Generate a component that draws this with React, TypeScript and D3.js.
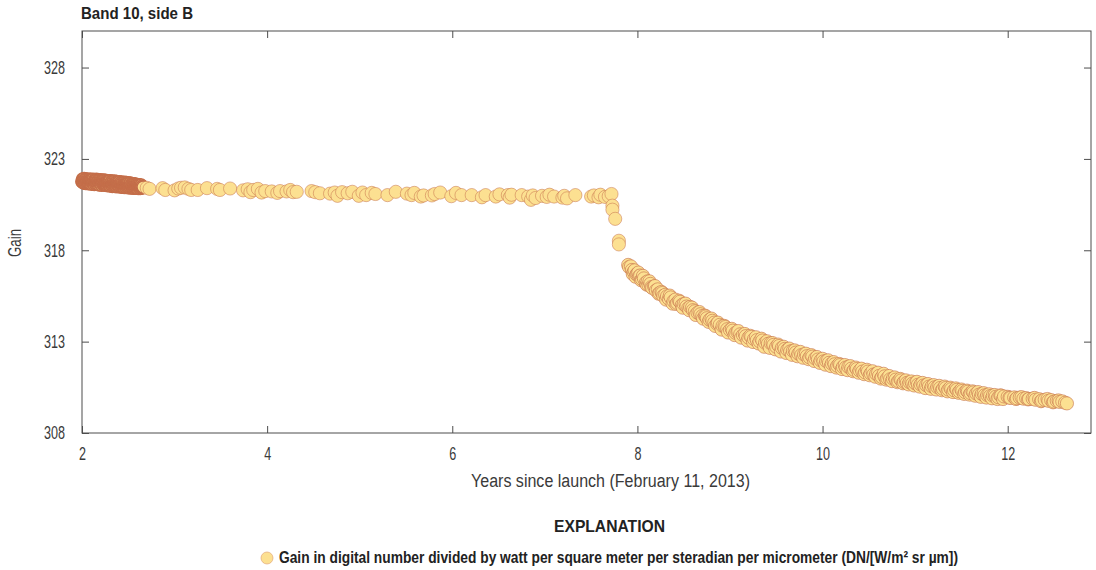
import { useEffect, useRef } from 'react'
import * as d3 from 'd3'

// first months after launch + 2 years, points nearly touching
const denseYears = [
  2.0, 2.01, 2.015, 2.02, 2.03, 2.035, 2.04, 2.05, 2.055, 2.06, 2.07, 2.075, 2.08, 2.09, 2.095, 2.1, 2.105, 2.11, 2.12, 2.125,
  2.13, 2.14, 2.145, 2.15, 2.16, 2.165, 2.17, 2.18, 2.185, 2.19, 2.2, 2.205, 2.21, 2.22, 2.225, 2.23, 2.24, 2.245, 2.25, 2.26,
  2.265, 2.27, 2.28, 2.285, 2.29, 2.3, 2.305, 2.31, 2.32, 2.325, 2.33, 2.34, 2.345, 2.35, 2.36, 2.365, 2.37, 2.38, 2.385, 2.39,
  2.4, 2.405, 2.41, 2.42, 2.425, 2.43, 2.44, 2.445, 2.45, 2.46, 2.465, 2.47, 2.48, 2.485, 2.49, 2.5, 2.505, 2.51, 2.52, 2.525,
  2.53, 2.54, 2.545, 2.55, 2.56, 2.565, 2.57, 2.58, 2.585, 2.59, 2.6, 2.605, 2.61, 2.62, 2.625, 2.63, 2.64, 2.645, 2.65, 2.66,
]
const denseGain = [
  321.78, 321.84, 321.72, 321.86, 321.76, 321.88, 321.7, 321.82, 321.74, 321.87, 321.68, 321.8, 321.72, 321.85, 321.66, 321.78, 321.84, 321.7, 321.8, 321.64,
  321.76, 321.83, 321.68, 321.75, 321.84, 321.62, 321.74, 321.8, 321.66, 321.72, 321.82, 321.6, 321.73, 321.78, 321.64, 321.7, 321.81, 321.62, 321.68, 321.76,
  321.58, 321.7, 321.74, 321.6, 321.67, 321.78, 321.57, 321.66, 321.72, 321.58, 321.64, 321.76, 321.56, 321.62, 321.7, 321.54, 321.64, 321.72, 321.55, 321.6,
  321.74, 321.52, 321.62, 321.68, 321.53, 321.58, 321.72, 321.5, 321.6, 321.66, 321.5, 321.56, 321.7, 321.49, 321.58, 321.64, 321.48, 321.54, 321.67, 321.47,
  321.56, 321.62, 321.46, 321.52, 321.64, 321.46, 321.54, 321.6, 321.45, 321.5, 321.6, 321.44, 321.52, 321.57, 321.44, 321.48, 321.56, 321.42, 321.5, 321.46,
]
const denseYears2 = [
  2.003, 2.007, 2.013, 2.018, 2.023, 2.027, 2.033, 2.038, 2.043, 2.047, 2.053, 2.058, 2.063, 2.067, 2.073, 2.078, 2.083, 2.087, 2.093, 2.098,
  2.103, 2.108, 2.113, 2.117, 2.123, 2.128, 2.133, 2.137, 2.143, 2.148, 2.153, 2.157, 2.163, 2.168, 2.173, 2.177, 2.183, 2.188, 2.193, 2.197,
  2.203, 2.208, 2.213, 2.217, 2.223, 2.228, 2.233, 2.237, 2.243, 2.248, 2.253, 2.257, 2.263, 2.268, 2.273, 2.277, 2.283, 2.288, 2.293, 2.297,
  2.303, 2.308, 2.313, 2.317, 2.323, 2.328, 2.333, 2.337, 2.343, 2.348, 2.353, 2.357, 2.363, 2.368, 2.373, 2.377, 2.383, 2.388, 2.393, 2.397,
  2.403, 2.408, 2.413, 2.417, 2.423, 2.428, 2.433, 2.437, 2.443, 2.448, 2.453, 2.457, 2.463, 2.468, 2.473, 2.477, 2.483, 2.488, 2.493, 2.497,
  2.503, 2.508, 2.513, 2.517, 2.523, 2.528, 2.533, 2.537, 2.543, 2.548, 2.553, 2.557, 2.563, 2.568, 2.573, 2.577, 2.583, 2.588, 2.593, 2.597,
  2.603, 2.608, 2.613, 2.617, 2.623, 2.628, 2.633, 2.637, 2.643, 2.648,
]
const denseGain2 = [
  321.74, 321.9, 321.8, 321.68, 321.92, 321.72, 321.84, 321.66, 321.9, 321.76, 321.7, 321.88, 321.78, 321.64, 321.86, 321.74, 321.68, 321.9, 321.72, 321.82,
  321.62, 321.86, 321.76, 321.66, 321.88, 321.7, 321.6, 321.84, 321.78, 321.62, 321.72, 321.88, 321.66, 321.8, 321.6, 321.74, 321.84, 321.58, 321.7, 321.86,
  321.64, 321.76, 321.56, 321.82, 321.68, 321.6, 321.84, 321.72, 321.56, 321.66, 321.82, 321.58, 321.74, 321.62, 321.8, 321.54, 321.7, 321.78, 321.56, 321.66,
  321.8, 321.52, 321.7, 321.6, 321.78, 321.5, 321.66, 321.74, 321.52, 321.6, 321.78, 321.5, 321.68, 321.58, 321.76, 321.48, 321.62, 321.7, 321.5, 321.56,
  321.74, 321.48, 321.66, 321.54, 321.72, 321.46, 321.6, 321.68, 321.46, 321.54, 321.72, 321.44, 321.62, 321.5, 321.7, 321.44, 321.58, 321.66, 321.44, 321.52,
  321.68, 321.42, 321.6, 321.48, 321.66, 321.42, 321.54, 321.62, 321.42, 321.5, 321.64, 321.4, 321.56, 321.46, 321.62, 321.4, 321.52, 321.58, 321.4, 321.46,
  321.58, 321.38, 321.52, 321.44, 321.56, 321.38, 321.46, 321.54, 321.4, 321.46,
]

// slow decline up to the drop
const flatYears = [
  2.7, 2.73, 2.87, 2.9, 3.0, 3.04, 3.07, 3.11, 3.15, 3.18, 3.25, 3.35, 3.46, 3.49, 3.6, 3.74, 3.79, 3.82, 3.85, 3.9,
  3.94, 3.98, 4.05, 4.11, 4.14, 4.21, 4.25, 4.28, 4.32, 4.48, 4.52, 4.57, 4.68, 4.73, 4.76, 4.81, 4.87, 4.92, 4.99, 5.03,
  5.07, 5.13, 5.17, 5.3, 5.39, 5.51, 5.56, 5.59, 5.66, 5.69, 5.78, 5.81, 5.87, 5.99, 6.04, 6.1, 6.21, 6.32, 6.36, 6.47,
  6.51, 6.6, 6.62, 6.64, 6.75, 6.82, 6.85, 6.87, 6.9, 6.97, 7.02, 7.05, 7.1, 7.19, 7.21, 7.24, 7.33, 7.5, 7.53, 7.58,
  7.6, 7.65, 7.69, 7.72,
]
const flatGain = [
  321.42, 321.36, 321.4, 321.3, 321.28, 321.38, 321.42, 321.44, 321.36, 321.3, 321.3, 321.4, 321.36, 321.3, 321.38, 321.28, 321.34, 321.18, 321.3, 321.36,
  321.16, 321.24, 321.22, 321.14, 321.24, 321.22, 321.3, 321.18, 321.2, 321.24, 321.18, 321.12, 321.1, 321.16, 320.98, 321.18, 321.12, 321.2, 320.98, 321.16,
  321.02, 321.14, 321.08, 321.02, 321.2, 321.1, 321.02, 321.14, 320.94, 321.0, 321.0, 321.08, 321.16, 320.96, 321.14, 321.02, 321.02, 320.9, 321.02, 320.94,
  321.06, 321.02, 320.88, 321.04, 321.02, 320.94, 320.76, 321.0, 320.86, 320.98, 320.92, 321.04, 320.94, 320.88, 320.98, 320.84, 321.02, 320.94, 321.0, 320.9,
  321.04, 320.92, 320.96, 321.08,
]

// sudden fall
const dropYears = [7.73, 7.73, 7.76, 7.8, 7.8]
const dropGain = [320.44, 320.22, 319.72, 318.52, 318.32]

// curve after the drop
const decayYears = [
  7.9, 7.91, 7.93, 7.94, 7.96, 7.97, 7.99, 8.0, 8.02, 8.03, 8.05, 8.07, 8.09, 8.11, 8.12, 8.14, 8.16, 8.18, 8.2, 8.22,
  8.24, 8.26, 8.28, 8.3, 8.32, 8.34, 8.36, 8.39, 8.41, 8.43, 8.46, 8.48, 8.5, 8.53, 8.55, 8.57, 8.6, 8.62, 8.65, 8.68,
  8.7, 8.73, 8.75, 8.78, 8.81, 8.83, 8.86, 8.89, 8.92, 8.95, 8.97, 9.0, 9.03, 9.06, 9.08, 9.11, 9.14, 9.17, 9.2, 9.23,
  9.26, 9.29, 9.32, 9.35, 9.38, 9.41, 9.44, 9.47, 9.5, 9.53, 9.56, 9.59, 9.62, 9.65, 9.68, 9.71, 9.74, 9.77, 9.8, 9.83,
  9.86, 9.89, 9.92, 9.95, 9.98, 10.01, 10.04, 10.07, 10.1, 10.13, 10.16, 10.19, 10.22, 10.25, 10.28, 10.31, 10.34, 10.37, 10.4, 10.43,
  10.46, 10.49, 10.52, 10.55, 10.58, 10.61, 10.64, 10.67, 10.7, 10.73, 10.76, 10.79, 10.82, 10.85, 10.88, 10.91, 10.94, 10.97, 11.0, 11.03,
  11.06, 11.09, 11.12, 11.15, 11.18, 11.21, 11.24, 11.27, 11.3, 11.33, 11.36, 11.39, 11.42, 11.45, 11.48, 11.51, 11.54, 11.57, 11.6, 11.63,
  11.66, 11.69, 11.72, 11.75, 11.78, 11.81, 11.84, 11.87, 11.9, 11.93, 11.96, 12.0, 12.03, 12.07, 12.1, 12.13, 12.17, 12.2, 12.23, 12.27,
  12.3, 12.34, 12.37, 12.4, 12.44, 12.47, 12.5, 12.53, 12.56, 12.59, 12.62, 12.64,
]
const decayGain = [
  317.2, 317.08, 317.12, 316.92, 316.82, 316.9, 316.68, 316.72, 316.58, 316.62, 316.42, 316.46, 316.22, 316.3, 316.1, 316.16, 315.94, 316.02, 315.8, 315.86,
  315.66, 315.72, 315.5, 315.56, 315.48, 315.34, 315.42, 315.22, 315.3, 315.12, 315.18, 315.0, 315.06, 314.92, 314.84, 314.9, 314.72, 314.66, 314.58, 314.5,
  314.4, 314.42, 314.28, 314.2, 314.14, 314.04, 313.98, 313.92, 313.86, 313.8, 313.68, 313.64, 313.6, 313.48, 313.52, 313.4, 313.36, 313.3, 313.22, 313.26,
  313.14, 313.08, 313.02, 313.06, 312.94, 312.88, 312.92, 312.82, 312.72, 312.76, 312.66, 312.6, 312.56, 312.46, 312.5, 312.4, 312.34, 312.26, 312.3, 312.2,
  312.14, 312.18, 312.08, 312.02, 311.98, 311.92, 311.94, 311.84, 311.8, 311.76, 311.68, 311.72, 311.62, 311.58, 311.62, 311.52, 311.46, 311.5, 311.42, 311.36,
  311.32, 311.36, 311.26, 311.2, 311.24, 311.12, 311.06, 311.1, 311.0, 310.94, 310.98, 310.92, 310.84, 310.88, 310.8, 310.74, 310.78, 310.7, 310.72, 310.64,
  310.66, 310.6, 310.62, 310.54, 310.56, 310.5, 310.52, 310.46, 310.42, 310.46, 310.38, 310.4, 310.34, 310.36, 310.28, 310.3, 310.24, 310.26, 310.18, 310.22,
  310.16, 310.1, 310.14, 310.06, 310.08, 310.02, 310.05, 309.98, 309.96, 310.04, 310.0, 309.98, 309.92, 309.95, 309.9, 309.94, 309.88, 309.91, 309.86, 309.88,
  309.82, 309.85, 309.78, 309.82, 309.76, 309.8, 309.72, 309.76, 309.7, 309.73, 309.66, 309.62,
]
// scatter around the curve, the brown crescents in the band
const decayYears2 = [
  7.95, 7.98, 8.01, 8.04, 8.06, 8.1, 8.13, 8.15, 8.19, 8.23, 8.27, 8.31, 8.35, 8.38, 8.42, 8.45, 8.49, 8.52, 8.56, 8.59,
  8.63, 8.67, 8.71, 8.74, 8.77, 8.8, 8.84, 8.87, 8.91, 8.94, 8.98, 9.02, 9.05, 9.09, 9.12, 9.16, 9.19, 9.22, 9.25, 9.28,
  9.31, 9.34, 9.37, 9.4, 9.43, 9.46, 9.49, 9.52, 9.55, 9.58, 9.61, 9.64, 9.67, 9.7, 9.73, 9.76, 9.79, 9.82, 9.85, 9.88,
  9.91, 9.94, 9.97, 10.0, 10.03, 10.06, 10.09, 10.12, 10.15, 10.18, 10.21, 10.24, 10.27, 10.3, 10.33, 10.36, 10.39, 10.42, 10.45, 10.48,
  10.51, 10.54, 10.57, 10.6, 10.63, 10.66, 10.69, 10.72, 10.75, 10.78, 10.81, 10.84, 10.87, 10.9, 10.93, 10.96, 10.99, 11.02, 11.05, 11.08,
  11.11, 11.14, 11.17, 11.2, 11.23, 11.26, 11.29, 11.32, 11.35, 11.38, 11.41, 11.44, 11.47, 11.5, 11.53, 11.56, 11.59, 11.62, 11.65, 11.68,
  11.71, 11.74, 11.77, 11.8, 11.83, 11.86, 11.89, 11.92, 11.95, 12.02, 12.09, 12.15, 12.22, 12.29, 12.36, 12.43, 12.49, 12.55,
]
const decayGain2 = [
  316.7, 316.55, 316.78, 316.36, 316.6, 316.12, 316.3, 315.98, 316.04, 315.62, 315.66, 315.3, 315.52, 315.08, 315.06, 315.24, 314.86, 315.08, 314.72, 314.86,
  314.46, 314.62, 314.26, 314.38, 314.08, 314.26, 313.86, 314.04, 313.66, 313.86, 313.5, 313.7, 313.36, 313.58, 313.22, 313.42, 313.06, 313.32, 312.98, 313.24,
  312.9, 313.16, 312.72, 313.02, 312.66, 312.92, 312.58, 312.84, 312.46, 312.72, 312.38, 312.62, 312.28, 312.52, 312.2, 312.44, 312.12, 312.34, 312.04, 312.26,
  311.94, 312.16, 311.84, 312.06, 311.74, 311.98, 311.66, 311.88, 311.58, 311.78, 311.5, 311.72, 311.44, 311.66, 311.38, 311.58, 311.3, 311.52, 311.22, 311.46,
  311.16, 311.38, 311.08, 311.3, 310.98, 311.24, 310.92, 311.12, 310.84, 311.04, 310.78, 310.96, 310.72, 310.88, 310.66, 310.82, 310.6, 310.8, 310.54, 310.74,
  310.46, 310.68, 310.42, 310.62, 310.38, 310.58, 310.34, 310.54, 310.28, 310.48, 310.24, 310.44, 310.2, 310.38, 310.14, 310.32, 310.1, 310.28, 310.04, 310.24,
  309.98, 310.18, 309.94, 310.12, 309.9, 310.08, 309.86, 310.06, 309.86, 309.94, 309.86, 309.96, 309.84, 309.92, 309.74, 309.86, 309.68, 309.78,
]

const points = [
  ...denseYears.map((y, i) => ({ year: y, gain: denseGain[i] })),
  ...denseYears2.map((y, i) => ({ year: y, gain: denseGain2[i] })),
  ...flatYears.map((y, i) => ({ year: y, gain: flatGain[i] })),
  ...dropYears.map((y, i) => ({ year: y, gain: dropGain[i] })),
  ...decayYears.map((y, i) => ({ year: y, gain: decayGain[i] })),
  ...decayYears2.map((y, i) => ({ year: y, gain: decayGain2[i] })),
].sort((a, b) => a.year - b.year)

const xTicks = [2, 4, 6, 8, 10, 12]
const yTicks = [308, 313, 318, 323, 328]

const chartTitle = 'Band 10, side B'
const xLabel = 'Years since launch (February 11, 2013)'
const yLabel = 'Gain'
const legendTitle = 'EXPLANATION'
const legendLabel = 'Gain in digital number divided by watt per square meter per steradian per micrometer (DN/[W/m² sr µm])'

const width = 1096
const height = 570
const margin = { top: 31, right: 5, bottom: 137, left: 82 }
const fontFamily = '"Liberation Sans", sans-serif'
const narrowScale = 0.7
const axisColor = '#4d4d4d'
const textColor = '#3a3a3a'
const fillColor = '#fce091'
const strokeColor = '#c46e4a'

const App = () => {
  const svgRef = useRef<SVGSVGElement>(null)

  useEffect(() => {
    if (!svgRef.current) return

    const innerWidth = width - margin.left - margin.right
    const innerHeight = height - margin.top - margin.bottom

    const svg = d3.select(svgRef.current)
    svg.selectAll('*').remove()

    const g = svg.append('g')
      .attr('transform', `translate(${margin.left},${margin.top})`)

    const xScale = d3.scaleLinear().domain([2, 12.9]).range([0, innerWidth])
    const yScale = d3.scaleLinear().domain([308, 330]).range([innerHeight, 0])

    g.append('rect')
      .attr('width', innerWidth)
      .attr('height', innerHeight)
      .attr('fill', 'none')
      .attr('stroke', axisColor)
      .attr('stroke-width', 1)

    const styleAxis = (sel: any) => {
      sel.select('.domain').remove()
      sel.selectAll('.tick line').attr('stroke', axisColor).attr('stroke-width', 1)
      sel.selectAll('text')
        .attr('fill', textColor)
        .attr('font-family', fontFamily)
        .attr('font-size', 18)
        .attr('x', function (this: any) { return +(this.getAttribute('x') || 0) / narrowScale })
        .attr('transform', `scale(${narrowScale},1)`)
    }

    g.append('g')
      .attr('transform', `translate(0,${innerHeight})`)
      .call(d3.axisBottom(xScale).tickValues(xTicks).tickSizeInner(-7).tickPadding(14).tickFormat(d3.format('d')))
      .call(styleAxis)
    g.append('g')
      .call(d3.axisTop(xScale).tickValues(xTicks).tickSizeInner(-7).tickFormat(() => ''))
      .call(styleAxis)
    g.append('g')
      .call(d3.axisLeft(yScale).tickValues(yTicks).tickSizeInner(-7).tickPadding(17).tickFormat(d3.format('d')))
      .call(styleAxis)
    g.append('g')
      .attr('transform', `translate(${innerWidth},0)`)
      .call(d3.axisRight(yScale).tickValues(yTicks).tickSizeInner(-7).tickFormat(() => ''))
      .call(styleAxis)

    // the packed start needs a heavier outline to close up into solid brown
    const outline = (year: number) => (year < 2.67 ? 1.5 : year > 7.85 ? 0.6 : 0.5)

    g.selectAll('circle.point')
      .data(points)
      .join('circle')
      .attr('class', 'point')
      .attr('cx', d => xScale(d.year))
      .attr('cy', d => yScale(d.gain))
      .attr('r', d => (d.year < 2.67 ? 6.1 : 6.6))
      .attr('fill', fillColor)
      .attr('stroke', strokeColor)
      .attr('stroke-width', d => outline(d.year))

    const addText = (label: string, x: number, y: number, size: number, weight: string, len: number) => {
      svg.append('text')
        .attr('x', x)
        .attr('y', y)
        .attr('fill', weight === 'bold' ? '#222' : textColor)
        .attr('font-family', fontFamily)
        .attr('font-size', size)
        .attr('font-weight', weight)
        .attr('textLength', len)
        .attr('lengthAdjust', 'spacingAndGlyphs')
        .text(label)
    }

    addText(chartTitle, 81, 19, 17, 'bold', 112)
    addText(xLabel, 471, 487, 18, 'normal', 279)
    addText(legendTitle, 554, 532, 17, 'bold', 111)
    addText(legendLabel, 279, 563, 16, 'bold', 679)

    svg.append('text')
      .attr('transform', `translate(21,243) rotate(-90) scale(${narrowScale},1)`)
      .attr('text-anchor', 'middle')
      .attr('fill', textColor)
      .attr('font-family', fontFamily)
      .attr('font-size', 19)
      .text(yLabel)

    svg.append('circle')
      .attr('cx', 267)
      .attr('cy', 558)
      .attr('r', 6)
      .attr('fill', fillColor)
      .attr('stroke', '#e3a878')
      .attr('stroke-width', 0.7)
  }, [])

  return (
    <svg
      ref={svgRef}
      width={width}
      height={height}
      style={{ position: 'absolute', left: 0, top: 0, background: '#fff' }}
    />
  )
}

export default App
